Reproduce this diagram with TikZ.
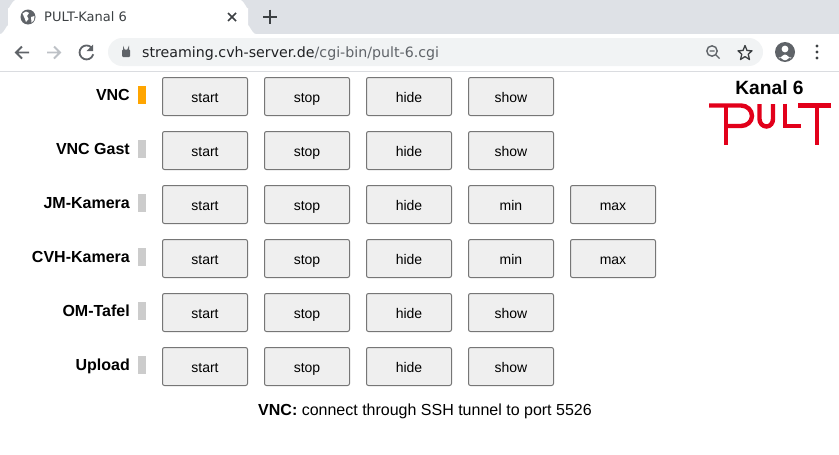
\documentclass[tikz,border=0pt]{standalone}
\usepackage{fontspec}
\setmainfont{Liberation Sans}
\newfontfamily\chromefont{DejaVu Sans}
\definecolor{chromebar}{HTML}{DEE1E6}
\definecolor{chromepill}{HTML}{F1F3F4}
\definecolor{chromeicon}{HTML}{5F6368}
\definecolor{chromedark}{HTML}{3C4043}
\definecolor{chromeoff}{HTML}{BDC1C6}
\definecolor{chromerule}{HTML}{DADCE0}
\definecolor{chrometext}{HTML}{202124}
\definecolor{btnfill}{HTML}{EFEFEF}
\definecolor{btnedge}{HTML}{767676}
\definecolor{lampon}{HTML}{FFA500}
\definecolor{lampoff}{HTML}{CCCCCC}
\definecolor{pultred}{HTML}{E2001A}
\tikzset{
  btn/.style={draw=btnedge,fill=btnfill,rounded corners=2pt,line width=1pt,outer sep=0pt,
    minimum width=85pt,minimum height=38pt,inner sep=0pt,anchor=north west,
    text height=11pt,text depth=0pt,font=\fontsize{14}{16}\selectfont},
  rowlabel/.style={anchor=base east,inner sep=0pt,font=\fontsize{16}{18}\selectfont\bfseries},
  lamp/.style={minimum width=8pt,minimum height=18pt,inner sep=0pt,outer sep=0pt,anchor=north west},
  pultline/.style={pultred,line width=4.4pt},
  iconline/.style={chromeicon,line width=1.8pt},
}

\begin{document}
\begin{tikzpicture}[x=1pt,y=-1pt]
  \useasboundingbox (0,0) rectangle (839,455);
  % browser
  \fill[chromebar] (0,0) rectangle (839,34);
  \fill[white] (0,34) to[out=0,in=90] (8,26) -- (8,8) to[out=-90,in=180] (16,0)
    -- (240,0) to[out=0,in=-90] (248,8) -- (248,26) to[out=90,in=180] (256,34) -- cycle;
  \fill[chromepill,rounded corners=14pt] (108,38) rectangle (763,66);
  \draw[chromerule,line width=1pt] (0,71.5) -- (839,71.5);
  \node[anchor=base west,inner sep=0pt,text=chromedark,font=\chromefont\fontsize{13}{15}\selectfont] (tabtitle) at (44,21) {PULT-Kanal 6};
  \node[anchor=base west,inner sep=0pt,font=\chromefont\fontsize{14.2}{17}\selectfont] (urltext) at (142,57.5)
    {\textcolor{chrometext}{streaming.cvh-server.de}\textcolor{chromeicon}{/cgi-bin/pult-6.cgi}};
  % tab icons
  \fill[chromeicon] (28,17) circle (7.5);
  \fill[white] (22.5,13.5) -- (26,11.5) -- (29,13) -- (27,16) -- (28.5,19) -- (26,22) -- (24.5,18) -- cycle;
  \fill[white] (31,17) -- (34.5,16) -- (34,20) -- (31.5,22.5) -- cycle;
  \draw[chromedark,line width=1.6pt] (228,13) -- (236,21) (236,13) -- (228,21);
  \draw[chromedark,line width=2pt] (263,16.5) -- (277,16.5) (270,9.5) -- (270,23.5);
  % toolbar icons
  \draw[iconline] (29,52.5) -- (16,52.5) (22,46.5) -- (16,52.5) -- (22,58.5);
  \draw[chromeoff,line width=1.8pt] (47,52.5) -- (60,52.5) (54,46.5) -- (60,52.5) -- (54,58.5);
  \draw[iconline] (91.5,47.5) arc (-45:-345:7);
  \fill[chromeicon] (93,44.5) -- (93,51) -- (86.5,51) -- cycle;
  \fill[chromeicon,rounded corners=1pt] (122,49.5) rectangle (130,57);
  \draw[chromeicon,line width=1.2pt] (123.6,50) -- (123.6,48.6) arc (180:0:2.4) -- (128.4,50);
  \draw[chromeicon,line width=1.4pt] (712,51) circle (5.2) (709.5,51) -- (714.5,51) (716,55) -- (719.5,58.5);
  \draw[chromedark,line width=1.3pt,line join=round] (745,45.5) -- (747,50.5) -- (752,50.8) -- (748.2,54.2) -- (749.5,59.5)
    -- (745,56.6) -- (740.5,59.5) -- (741.8,54.2) -- (738,50.8) -- (743,50.5) -- cycle;
  \fill[chromeicon] (785,52) circle (10);
  \fill[white] (785,49) circle (3.4);
  \fill[white] (778.5,57.8) to[out=-70,in=180] (785,54.5) to[out=0,in=-110] (791.5,57.8) to[out=130,in=0] (785,60.3) to[out=180,in=50] (778.5,57.8);
  \foreach \doty in {46,52,58}
    \fill[chromedark] (817,\doty) circle (1.6);
  % rows
  \foreach \rowid/\rowtext/\lampcol/\rowbtns [count=\rowi from 0] in {
    vnc/VNC/lampon/{start,stop,hide,show},
    gast/VNC Gast/lampoff/{start,stop,hide,show},
    jm/JM-Kamera/lampoff/{start,stop,hide,min,max},
    cvh/CVH-Kamera/lampoff/{start,stop,hide,min,max},
    om/OM-Tafel/lampoff/{start,stop,hide,show},
    upload/Upload/lampoff/{start,stop,hide,show}} {
    \node[rowlabel] (\rowid-label) at (130,{100.5+54*\rowi}) {\rowtext};
    \node[lamp,fill=\lampcol] (\rowid-lamp) at (138,{86+54*\rowi}) {};
    \foreach \btnname [count=\btni from 0] in \rowbtns
      \node[btn] (\rowid-\btnname) at ({162.5+102*\btni},{77.5+54*\rowi}) {\btnname};
  }
  \node[anchor=base,inner sep=0pt,font=\fontsize{16}{18}\selectfont] (footer) at (425,415) {\textbf{VNC:} connect through SSH tunnel to port 5526};
  % logo
  \node[anchor=base,inner sep=0pt,font=\fontsize{19.2}{22}\selectfont\bfseries] (kanal) at (769.5,94) {Kanal 6};
  \draw[pultline] (709,105.5) -- (741,105.5) to[out=0,in=90] (752,116) to[out=-90,in=0] (741,126) -- (726,126);
  \draw[pultline] (726,105.5) -- (726,145);
  \draw[pultline] (759.5,104) -- (759.5,119) to[out=-90,in=180] (766.5,126.5) to[out=0,in=-90] (773,119) -- (773,104);
  \draw[pultline] (785,103.5) -- (785,125.7) -- (801,125.7);
  \draw[pultline] (798,105.5) -- (831,105.5) (817,105.5) -- (817,145);
\end{tikzpicture}
\end{document}
